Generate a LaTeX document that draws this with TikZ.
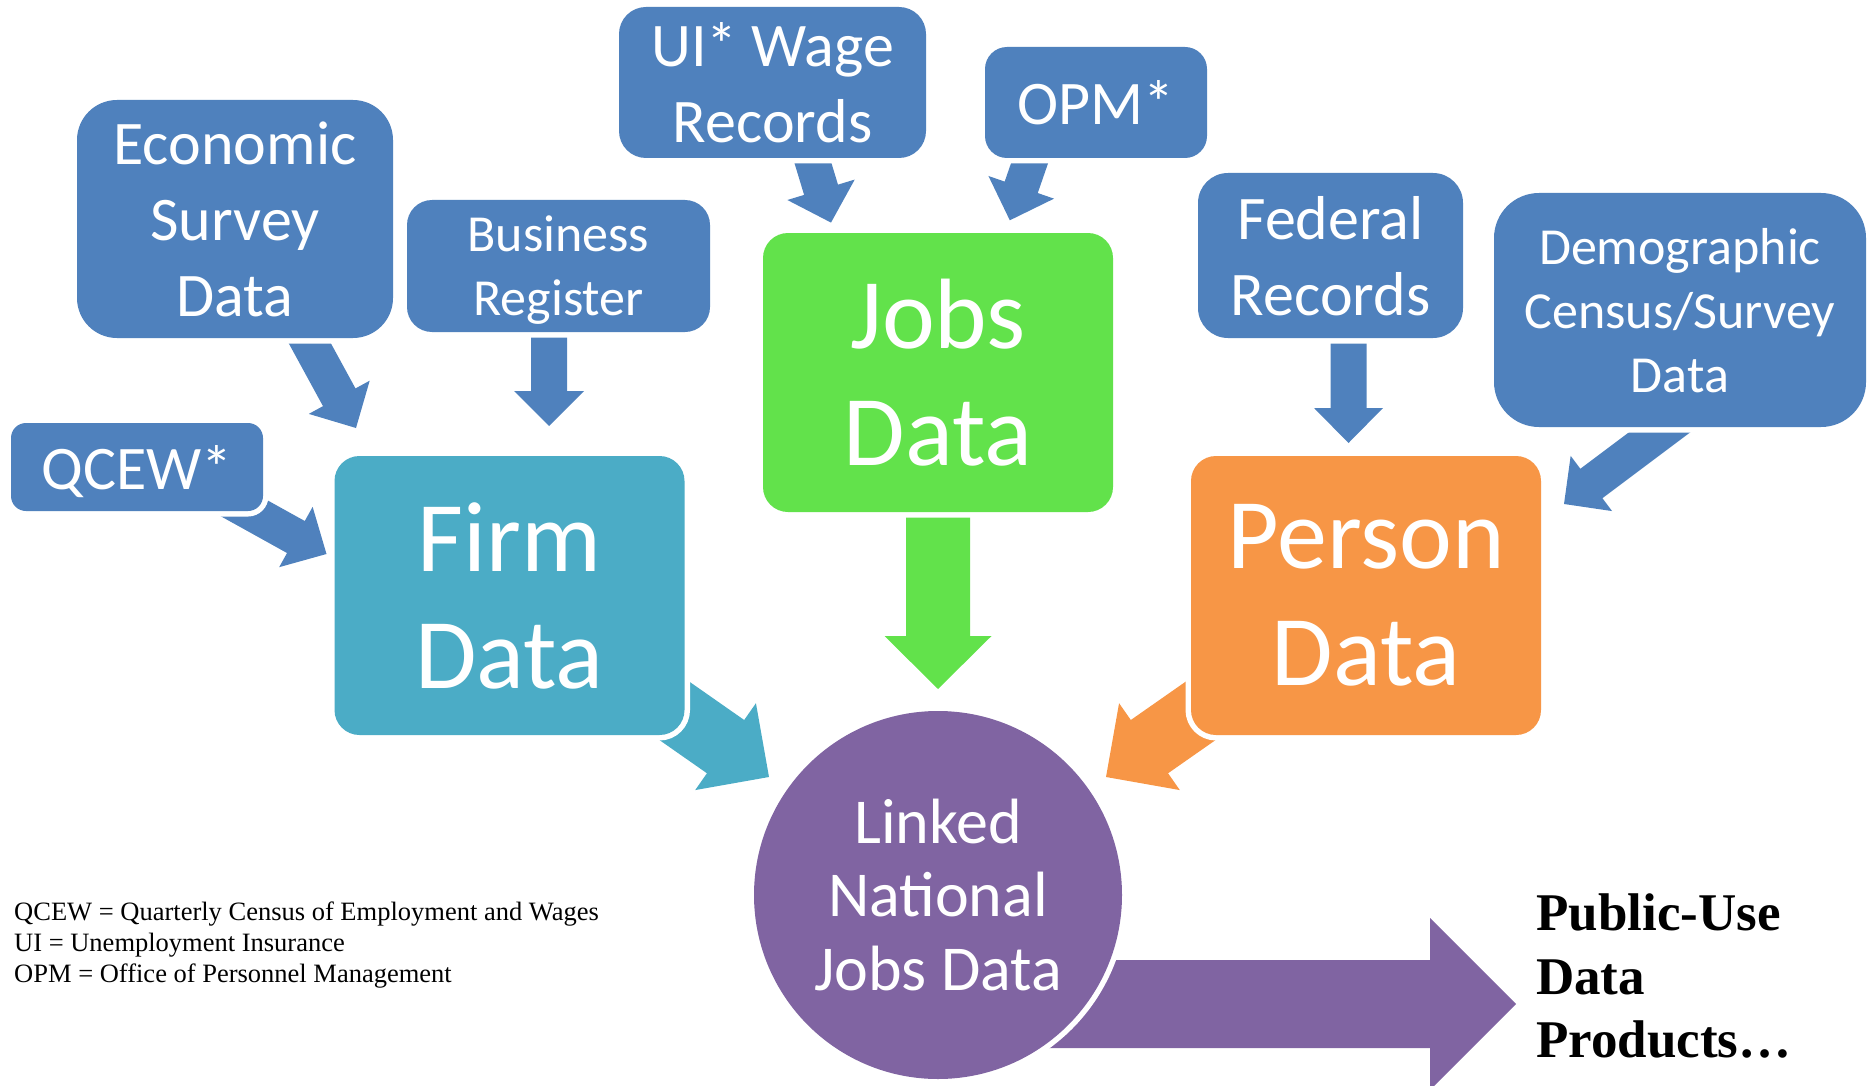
\documentclass[tikz,border=0pt]{standalone}
\usepackage{fontspec}
\setmainfont{Carlito}
\newfontfamily\serifnote{Liberation Serif}
\usetikzlibrary{calc}
\pgfdeclarelayer{arrowlayer}
\pgfsetlayers{arrowlayer,main}
\definecolor{srcblue}{HTML}{4F81BD}
\definecolor{firmteal}{HTML}{4BACC6}
\definecolor{jobsgreen}{HTML}{62E24B}
\definecolor{personorange}{HTML}{F79646}
\definecolor{linkpurple}{HTML}{8064A2}
% #1 start, #2 tip, #3 half shaft width, #4 half head width, #5 head length, #6 colour
\newcommand\blockarrow[6]{%
  \coordinate (ba-b) at ($(#2)!#5!(#1)$);
  \fill[#6] ($(#1)!#3!90:(#2)$) -- ($(ba-b)!#3!90:(#2)$) -- ($(ba-b)!#4!90:(#2)$)
    -- (#2) -- ($(ba-b)!#4!-90:(#2)$) -- ($(ba-b)!#3!-90:(#2)$)
    -- ($(#1)!#3!-90:(#2)$) -- cycle;
}
\begin{document}
\begin{tikzpicture}[x=1pt,y=-1pt,
  ring/.style={preaction={draw=white,line width=11pt}},
  srcbox/.style={rectangle, fill=srcblue, text=white, align=center, inner sep=0pt, text depth=0pt, ring},
  mainbox/.style={rectangle, text=white, align=center, inner sep=0pt, rounded corners=25pt, ring,
    minimum width=350pt, minimum height=279pt, font=\fontsize{100pt}{117pt}\selectfont},
  fnt62/.style={font=\fontsize{62pt}{76pt}\selectfont},
  fnt52/.style={font=\fontsize{52pt}{64pt}\selectfont},
]
\useasboundingbox (0,0) rectangle (1868,1086);

% source boxes
\node[srcbox, fnt62, rounded corners=40pt, minimum width=316pt, minimum height=238pt] (econ) at (235,219) {Economic\\Survey\\Data};
\node[srcbox, fnt52, rounded corners=25pt, minimum width=303pt, minimum height=132pt] (biz) at (558.5,266) {Business\\Register};
\node[srcbox, fnt62, rounded corners=27pt, minimum width=307pt, minimum height=151pt] (ui) at (772.5,82.5) {UI* Wage\\Records};
\node[srcbox, fnt62, rounded corners=22pt, minimum width=222pt, minimum height=111pt] (opm) at (1096,102.5) {OPM*};
\node[srcbox, fnt62, rounded corners=15pt, minimum width=252pt, minimum height=88pt] (qcew) at (137,467) {QCEW*};
\node[srcbox, fnt62, rounded corners=30pt, minimum width=265pt, minimum height=165pt] (fed) at (1330.5,255.5) {Federal\\Records};
\node[srcbox, fnt52, rounded corners=45pt, minimum width=372pt, minimum height=234pt] (demo) at (1680,310) {Demographic\\Census/Survey\\Data};

% main boxes
\node[mainbox, fill=jobsgreen] (jobs) at (938,372.5) {Jobs\\Data};
\node[mainbox, fill=firmteal] (firm) at (509.5,595.5) {Firm\\Data};
\node[mainbox, fill=personorange] (person) at (1366,595.5) {Person\\Data};

% linked circle
\node[circle, fill=linkpurple, text=white, align=center, inner sep=0pt, minimum size=368pt, ring,
  font=\fontsize{64pt}{73.5pt}\selectfont] (linked) at (938,895) {Linked\\National\\Jobs Data};

% output text
\node[anchor=north west, inner sep=0pt, align=left, font=\serifnote\bfseries\fontsize{53pt}{63.5pt}\selectfont] (public) at (1536,894) {Public-Use\\Data\\Products…};

% footnotes
\node[anchor=north west, inner sep=0pt, align=left, font=\serifnote\fontsize{26.5pt}{31pt}\selectfont] (notes) at (14,902)
  {QCEW = Quarterly Census of Employment and Wages\\UI = Unemployment Insurance\\OPM = Office of Personnel Management};

% arrow end points
\coordinate (econ-s) at (284,296);   \coordinate (econ-t) at (356,428);
\coordinate (biz-s) at (549,300);    \coordinate (biz-t) at (549,426);
\coordinate (qcew-s) at (195,481);   \coordinate (qcew-t) at (326.5,554);
\coordinate (ui-s) at (802,127);     \coordinate (ui-t) at (831,222.6);
\coordinate (opm-s) at (1042.5,125.8); \coordinate (opm-t) at (1009.8,220.3);
\coordinate (jobs-s) at (938,450);   \coordinate (jobs-t) at (938,689);
\coordinate (firm-s) at (646,691);   \coordinate (firm-t) at (769,777);
\coordinate (person-s) at (1229,691); \coordinate (person-t) at (1106,777);
\coordinate (fed-s) at (1348.5,300); \coordinate (fed-t) at (1348.5,443);
\coordinate (demo-s) at (1724,384);  \coordinate (demo-t) at (1564,504);
\coordinate (linked-s) at (linked.center |- 0,1004); \coordinate (public-t) at (1516,1004);

\begin{pgfonlayer}{arrowlayer}
\blockarrow{econ-s}{econ-t}{18.5pt}{34.7pt}{35pt}{srcblue}
\blockarrow{biz-s}{biz-t}{18pt}{35pt}{35pt}{srcblue}
\blockarrow{qcew-s}{qcew-t}{18.3pt}{34.5pt}{35pt}{srcblue}
\blockarrow{ui-s}{ui-t}{17.7pt}{35.2pt}{34.3pt}{srcblue}
\blockarrow{opm-s}{opm-t}{17.5pt}{34.7pt}{34.9pt}{srcblue}
\blockarrow{fed-s}{fed-t}{18pt}{34.5pt}{35pt}{srcblue}
\blockarrow{demo-s}{demo-t}{18.4pt}{34.5pt}{34.2pt}{srcblue}
\blockarrow{jobs-s}{jobs-t}{32pt}{53.5pt}{53pt}{jobsgreen}
\blockarrow{firm-s}{firm-t}{32.5pt}{53pt}{53pt}{firmteal}
\blockarrow{person-s}{person-t}{32.5pt}{53pt}{53pt}{personorange}
\blockarrow{linked-s}{public-t}{44pt}{86pt}{86pt}{linkpurple}
\end{pgfonlayer}
\end{tikzpicture}
\end{document}
